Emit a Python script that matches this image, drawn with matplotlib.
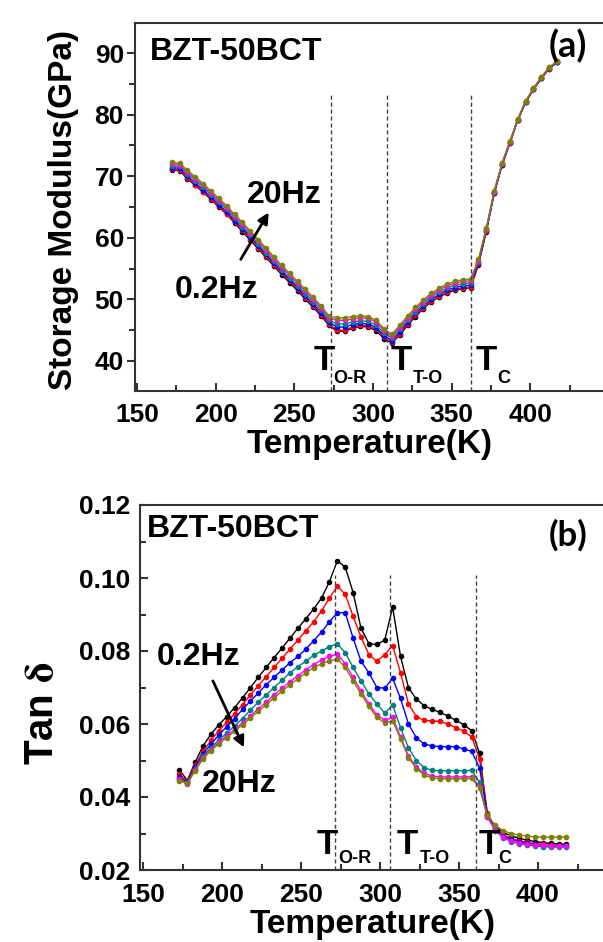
import matplotlib
matplotlib.use("Agg")
import matplotlib.pyplot as plt
from matplotlib.ticker import FixedLocator, FormatStrFormatter

plt.rcParams['font.family'] = ['Liberation Sans', 'DejaVu Sans']
plt.rcParams['font.weight'] = 'bold'
plt.rcParams['mathtext.fontset'] = 'stix'

# ---- data: storage modulus (GPa), panel (a) ----
temp_a = [172, 177, 182, 187, 192, 197, 202, 207, 212, 217,
          222, 227, 232, 237, 242, 247, 252, 257, 262, 267,
          272, 277, 282, 287, 292, 297, 302, 307, 312, 317,
          322, 327, 332, 337, 342, 347, 352, 357, 362, 367,
          372, 377, 382, 387, 392, 397, 402, 407, 412, 417]

mod_02hz = [71.0, 70.9, 69.6, 68.5, 67.4, 66.2, 65.0, 63.8, 62.4, 61.0,
            59.6, 58.2, 56.8, 55.4, 54.0, 52.7, 51.4, 50.0, 48.7, 47.3,
            45.8, 44.8, 44.8, 45.3, 45.6, 45.5, 44.9, 43.6, 42.9, 44.2,
            45.8, 47.2, 48.5, 49.6, 50.4, 51.0, 51.5, 51.7, 51.9, 55.6,
            61.0, 67.2, 71.8, 75.4, 79.1, 82.0, 84.1, 85.9, 87.5, 88.5]
mod_05hz = [71.1, 71.0, 69.7, 68.6, 67.5, 66.3, 65.1, 63.9, 62.5, 61.2,
            59.8, 58.4, 57.0, 55.6, 54.2, 52.9, 51.6, 50.2, 48.9, 47.5,
            46.0, 45.0, 45.0, 45.5, 45.8, 45.7, 45.1, 43.8, 43.0, 44.4,
            46.0, 47.4, 48.6, 49.7, 50.5, 51.2, 51.6, 51.9, 52.0, 55.7,
            61.1, 67.2, 71.8, 75.4, 79.1, 82.0, 84.1, 85.9, 87.5, 88.5]
mod_1hz = [71.4, 71.3, 70.0, 68.9, 67.8, 66.6, 65.4, 64.2, 62.8, 61.5,
           60.1, 58.7, 57.3, 55.9, 54.5, 53.2, 51.9, 50.5, 49.2, 47.8,
           46.3, 45.5, 45.5, 45.9, 46.1, 46.0, 45.4, 44.1, 43.3, 44.7,
           46.3, 47.7, 48.9, 50.0, 50.8, 51.5, 51.9, 52.2, 52.3, 55.9,
           61.2, 67.3, 71.9, 75.5, 79.2, 82.1, 84.2, 86.0, 87.6, 88.6]
mod_2hz = [71.7, 71.6, 70.4, 69.3, 68.2, 67.0, 65.8, 64.6, 63.2, 61.8,
           60.4, 59.0, 57.6, 56.2, 54.8, 53.5, 52.2, 50.9, 49.6, 48.2,
           46.6, 46.0, 46.0, 46.3, 46.5, 46.4, 45.8, 44.5, 43.7, 45.1,
           46.6, 48.0, 49.3, 50.4, 51.2, 51.8, 52.3, 52.5, 52.7, 56.1,
           61.3, 67.4, 72.0, 75.6, 79.2, 82.1, 84.2, 86.0, 87.6, 88.6]
mod_10hz = [72.0, 71.9, 70.7, 69.6, 68.5, 67.3, 66.1, 64.9, 63.5, 62.2,
            60.8, 59.4, 58.0, 56.6, 55.2, 53.9, 52.6, 51.3, 50.0, 48.6,
            47.0, 46.6, 46.6, 46.8, 47.0, 46.9, 46.3, 44.9, 44.0, 45.5,
            47.0, 48.4, 49.6, 50.7, 51.5, 52.2, 52.6, 52.9, 53.0, 56.3,
            61.5, 67.5, 72.1, 75.6, 79.3, 82.2, 84.3, 86.1, 87.7, 88.7]
mod_20hz = [72.3, 72.1, 71.0, 69.9, 68.8, 67.6, 66.4, 65.2, 63.8, 62.5,
            61.1, 59.7, 58.3, 56.9, 55.5, 54.2, 52.9, 51.6, 50.3, 48.9,
            47.3, 47.0, 47.0, 47.2, 47.3, 47.2, 46.6, 45.2, 44.3, 45.8,
            47.3, 48.7, 49.9, 51.0, 51.8, 52.5, 52.9, 53.2, 53.3, 56.5,
            61.6, 67.6, 72.1, 75.7, 79.3, 82.2, 84.3, 86.1, 87.7, 88.7]

# ---- data: tan delta, panel (b) ----
temp_b = [173, 178, 183, 188, 193, 198, 203, 208, 213, 218,
          223, 228, 233, 238, 243, 248, 253, 258, 263, 268,
          273, 278, 283, 288, 293, 298, 303, 308, 313, 318,
          323, 328, 333, 338, 343, 348, 353, 358, 363, 368,
          373, 378, 383, 388, 393, 398, 403, 408, 413, 418]

tan_02hz = [0.0475, 0.0445, 0.0495, 0.0540, 0.0572, 0.0598, 0.0620, 0.0645, 0.0672, 0.0700,
            0.0728, 0.0755, 0.0782, 0.0808, 0.0835, 0.0862, 0.0888, 0.0915, 0.0945, 0.0990,
            0.1047, 0.1030, 0.0960, 0.0862, 0.0820, 0.0818, 0.0830, 0.0920, 0.0785, 0.0700,
            0.0668, 0.0650, 0.0640, 0.0632, 0.0622, 0.0610, 0.0598, 0.0582, 0.0520, 0.0350,
            0.0318, 0.0302, 0.0294, 0.0287, 0.0282, 0.0278, 0.0275, 0.0273, 0.0271, 0.0270]
tan_05hz = [0.0462, 0.0443, 0.0488, 0.0525, 0.0555, 0.0582, 0.0605, 0.0628, 0.0653, 0.0680,
            0.0705, 0.0730, 0.0755, 0.0780, 0.0805, 0.0830, 0.0855, 0.0880, 0.0910, 0.0945,
            0.0978, 0.0955, 0.0895, 0.0838, 0.0790, 0.0772, 0.0790, 0.0815, 0.0740, 0.0655,
            0.0620, 0.0610, 0.0608, 0.0607, 0.0600, 0.0590, 0.0580, 0.0565, 0.0505, 0.0355,
            0.0315, 0.0296, 0.0286, 0.0280, 0.0276, 0.0272, 0.0270, 0.0268, 0.0267, 0.0266]
tan_1hz = [0.0455, 0.0440, 0.0482, 0.0518, 0.0545, 0.0570, 0.0593, 0.0615, 0.0640, 0.0663,
           0.0685, 0.0708, 0.0728, 0.0748, 0.0768, 0.0785, 0.0805, 0.0828, 0.0852, 0.0880,
           0.0905, 0.0905, 0.0835, 0.0772, 0.0740, 0.0700, 0.0698, 0.0725, 0.0670, 0.0600,
           0.0562, 0.0545, 0.0540, 0.0538, 0.0538, 0.0538, 0.0532, 0.0525, 0.0480, 0.0350,
           0.0312, 0.0293, 0.0284, 0.0278, 0.0273, 0.0270, 0.0268, 0.0266, 0.0265, 0.0265]
tan_2hz = [0.0450, 0.0438, 0.0478, 0.0512, 0.0535, 0.0556, 0.0575, 0.0595, 0.0615, 0.0638,
           0.0660, 0.0680, 0.0700, 0.0720, 0.0740, 0.0757, 0.0772, 0.0788, 0.0800, 0.0812,
           0.0820, 0.0795, 0.0755, 0.0718, 0.0682, 0.0655, 0.0630, 0.0652, 0.0590, 0.0535,
           0.0500, 0.0480, 0.0473, 0.0472, 0.0472, 0.0472, 0.0472, 0.0473, 0.0440, 0.0345,
           0.0308, 0.0288, 0.0278, 0.0272, 0.0268, 0.0266, 0.0264, 0.0263, 0.0263, 0.0263]
tan_10hz = [0.0448, 0.0435, 0.0475, 0.0508, 0.0530, 0.0550, 0.0568, 0.0585, 0.0603, 0.0622,
            0.0642, 0.0660, 0.0680, 0.0698, 0.0716, 0.0732, 0.0748, 0.0763, 0.0775, 0.0785,
            0.0792, 0.0765, 0.0728, 0.0690, 0.0655, 0.0625, 0.0610, 0.0618, 0.0565, 0.0512,
            0.0482, 0.0465, 0.0457, 0.0455, 0.0455, 0.0455, 0.0455, 0.0456, 0.0428, 0.0345,
            0.0310, 0.0290, 0.0280, 0.0274, 0.0271, 0.0269, 0.0268, 0.0267, 0.0267, 0.0267]
tan_20hz = [0.0445, 0.0437, 0.0472, 0.0505, 0.0527, 0.0546, 0.0563, 0.0580, 0.0598, 0.0616,
            0.0635, 0.0653, 0.0672, 0.0690, 0.0708, 0.0724, 0.0740, 0.0754, 0.0765, 0.0773,
            0.0778, 0.0755, 0.0718, 0.0682, 0.0648, 0.0618, 0.0603, 0.0608, 0.0560, 0.0508,
            0.0478, 0.0460, 0.0452, 0.0450, 0.0450, 0.0450, 0.0450, 0.0451, 0.0425, 0.0350,
            0.0322, 0.0308, 0.0300, 0.0296, 0.0293, 0.0291, 0.0290, 0.0290, 0.0290, 0.0290]

series_colors = ['#000000', '#ff0000', '#0000ff', '#008080', '#ff00ff', '#808000']

# transition temperatures (dashed markers)
trans_a = [273.5, 309, 362.5]
trans_b = [271.5, 306.5, 360.5]

x_major = [150, 200, 250, 300, 350, 400]
x_minor = [175, 225, 275, 325, 375, 425]

W, H = 603, 942


def style_axes(ax, ydir):
    for side in ['left', 'bottom', 'top', 'right']:
        ax.spines[side].set_linewidth(1.5)
        ax.spines[side].set_color('#333333')
    ax.xaxis.set_major_locator(FixedLocator(x_major))
    ax.xaxis.set_minor_locator(FixedLocator(x_minor))
    ax.tick_params(axis='x', which='major', direction='in', length=6, width=1.5,
                   labelsize=19, pad=9, colors='#333333', labelcolor='black')
    ax.tick_params(axis='x', which='minor', direction='in', length=4, width=1.5,
                   colors='#333333')
    pad = 2 if ydir == 'out' else 7
    ax.tick_params(axis='y', which='major', direction=ydir, length=6, width=1.5,
                   labelsize=19, pad=pad, colors='#333333', labelcolor='black')
    ax.tick_params(axis='y', which='minor', direction=ydir, length=4, width=1.5,
                   colors='#333333')
    for lab in ax.get_xticklabels() + ax.get_yticklabels():
        lab.set_fontweight('bold')


def add_t_labels(ax, xs_big, xs_sub, subs, y_big, y_sub):
    for xb, xsb, s in zip(xs_big, xs_sub, subs):
        ax.text(xb, y_big, 'T', fontsize=25, fontweight='bold', ha='left', va='baseline')
        ax.text(xsb, y_sub, s, fontsize=13, fontweight='bold', ha='left', va='baseline')


fig = plt.figure(figsize=(W / 100, H / 100), dpi=100)

# ---------------- panel (a) ----------------
ax_a = fig.add_axes([135 / W, 1 - 391 / H, 474 / W, 368 / H])
series_a = [mod_02hz, mod_05hz, mod_1hz, mod_2hz, mod_10hz, mod_20hz]
for vals, c in zip(series_a, series_colors):
    ax_a.plot(temp_a, vals, '-o', color=c, lw=1.0, ms=3.0, mec=c)
ax_a.set_xlim(148.7, 450)
ax_a.set_ylim(35.1, 94.9)
ax_a.yaxis.set_major_locator(FixedLocator([40, 50, 60, 70, 80, 90]))
ax_a.yaxis.set_minor_locator(FixedLocator([45, 55, 65, 75, 85]))
style_axes(ax_a, 'out')
ax_a.vlines(trans_a, 35.1, 83.5, colors='#444444', linestyles=(0, (3, 2)), lw=1.0)

ax_a.text(158, 88.9, 'BZT-50BCT', fontsize=23, fontweight='bold')
ax_a.text(220, 65.6, '20Hz', fontsize=23, fontweight='bold')
ax_a.text(174, 50.2, '0.2Hz', fontsize=23, fontweight='bold')
ax_a.annotate('', xy=(234.6, 64.5), xytext=(215, 56.1),
              arrowprops=dict(arrowstyle='-|>', lw=2, color='black', mutation_scale=16))
add_t_labels(ax_a, [262, 311, 365], [274.7, 325, 379], ['O-R', 'T-O', 'C'], 38.5, 36.4)

# ---------------- panel (b) ----------------
ax_b = fig.add_axes([140 / W, 1 - 870 / H, 477 / W, 365 / H])
series_b = [tan_02hz, tan_05hz, tan_1hz, tan_2hz, tan_10hz, tan_20hz]
for vals, c in zip(series_b, series_colors):
    ax_b.plot(temp_b, vals, '-o', color=c, lw=1.0, ms=3.0, mec=c)
ax_b.set_xlim(148.1, 450)
ax_b.set_ylim(0.02, 0.12)
ax_b.yaxis.set_major_locator(FixedLocator([0.02, 0.04, 0.06, 0.08, 0.10, 0.12]))
ax_b.yaxis.set_minor_locator(FixedLocator([0.03, 0.05, 0.07, 0.09, 0.11]))
ax_b.yaxis.set_major_formatter(FormatStrFormatter('%.2f'))
style_axes(ax_b, 'in')
ax_b.vlines(trans_b, 0.02, 0.1008, colors='#444444', linestyles=(0, (3, 2)), lw=1.0)

ax_b.text(152.5, 0.1112, 'BZT-50BCT', fontsize=23, fontweight='bold')
ax_b.text(159, 0.0762, '0.2Hz', fontsize=23, fontweight='bold')
ax_b.text(187.3, 0.0414, '20Hz', fontsize=23, fontweight='bold')
ax_b.annotate('', xy=(214.6, 0.0529), xytext=(193.5, 0.0725),
              arrowprops=dict(arrowstyle='-|>', lw=2, color='black', mutation_scale=16))
add_t_labels(ax_b, [260, 310.5, 362.5], [273.5, 325, 375], ['O-R', 'T-O', 'C'], 0.0243, 0.0219)

# axis titles and panel tags
fig.text(370 / W, 1 - 445 / H, 'Temperature(K)', fontsize=24, fontweight='bold',
         ha='center', va='center')
fig.text(373 / W, 1 - 924 / H, 'Temperature(K)', fontsize=24, fontweight='bold',
         ha='center', va='center')
fig.text(64 / W, 1 - 210 / H, 'Storage Modulus(GPa)', fontsize=24, fontweight='bold',
         rotation=90, ha='center', va='center')
fig.text(42 / W, 1 - 713 / H, r'Tan $\mathrm{\delta}$', fontsize=29, fontweight='bold',
         rotation=90, ha='center', va='center')
fig.text(549 / W, 1 - 29 / H, '(a)', fontsize=26, fontweight='bold', family='Lato',
         ha='left', va='top')
fig.text(549 / W, 1 - 519 / H, '(b)', fontsize=25, fontweight='bold', family='Lato',
         ha='left', va='top')

fig.savefig('out.png', dpi=100)
plt.close(fig)
